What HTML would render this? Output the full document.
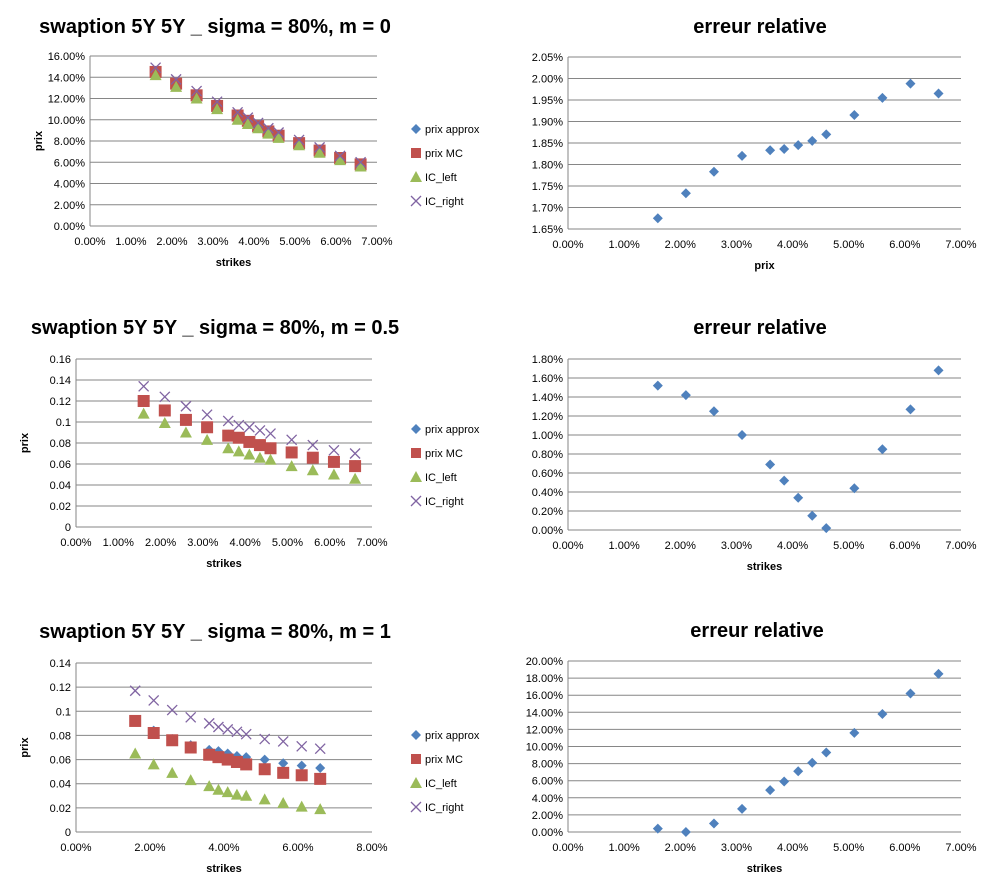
<!DOCTYPE html>
<html><head><meta charset="utf-8">
<style>
body{margin:0;background:#fff;font-family:"Liberation Sans",sans-serif;}
svg{display:block}
text{font-family:"Liberation Sans",sans-serif;fill:#000}
</style></head>
<body>
<svg id="c" width="988" height="888" viewBox="0 0 988 888"></svg>
<script>
const strikes=[0.016,0.021,0.026,0.031,0.036,0.0385,0.041,0.0435,0.046,0.051,0.056,0.061,0.066];
const m0Approx=[0.146,0.135,0.124,0.114,0.104,0.099,0.094,0.089,0.085,0.078,0.071,0.064,0.058];
const m0MC=[0.145,0.134,0.123,0.113,0.104,0.099,0.094,0.089,0.085,0.078,0.071,0.064,0.058];
const m0Left=[0.142,0.131,0.120,0.110,0.100,0.096,0.092,0.087,0.083,0.076,0.069,0.062,0.056];
const m0Right=[0.149,0.138,0.127,0.117,0.107,0.102,0.097,0.092,0.088,0.081,0.074,0.066,0.060];
const m05Approx=[0.121,0.111,0.103,0.095,0.088,0.085,0.082,0.079,0.076,0.071,0.066,0.062,0.059];
const m05MC=[0.120,0.111,0.102,0.095,0.087,0.085,0.081,0.078,0.075,0.071,0.066,0.062,0.058];
const m05Left=[0.108,0.099,0.090,0.083,0.075,0.072,0.069,0.066,0.064,0.058,0.054,0.050,0.046];
const m05Right=[0.134,0.124,0.115,0.107,0.101,0.097,0.095,0.092,0.089,0.083,0.078,0.073,0.070];
const m1Approx=[0.092,0.084,0.077,0.072,0.068,0.067,0.065,0.063,0.062,0.060,0.057,0.055,0.053];
const m1MC=[0.092,0.082,0.076,0.070,0.064,0.062,0.060,0.058,0.056,0.052,0.049,0.047,0.044];
const m1Left=[0.065,0.056,0.049,0.043,0.038,0.035,0.033,0.031,0.030,0.027,0.024,0.021,0.019];
const m1Right=[0.117,0.109,0.101,0.095,0.090,0.087,0.085,0.083,0.081,0.077,0.075,0.071,0.069];
const err0=[0.01675,0.01733,0.01783,0.01820,0.01833,0.01836,0.01845,0.01855,0.01870,0.01915,0.01955,0.01988,0.01965];
const err05=[0.0152,0.0142,0.0125,0.0100,0.0069,0.0052,0.0034,0.0015,0.0002,0.0044,0.0085,0.0127,0.0168];
const err1=[0.004,0.000,0.010,0.027,0.049,0.059,0.071,0.081,0.093,0.116,0.138,0.162,0.185];

const svg=document.getElementById('c');
const NS='http://www.w3.org/2000/svg';
function mk(tag,attrs,parent){const e=document.createElementNS(NS,tag);for(const k in attrs)e.setAttribute(k,attrs[k]);(parent||svg).appendChild(e);return e;}
const COL={approx:'#4f81bd',mc:'#c0504d',left:'#9bbb59',right:'#8064a2'};
function marker(g,type,x,y){
  let e;
  if(type==='approx'){e=mk('polygon',{points:`${x},${y-5} ${x+5},${y} ${x},${y+5} ${x-5},${y}`,fill:COL.approx},g);}
  else if(type==='mc'){e=mk('rect',{x:x-6,y:y-6,width:12,height:12,fill:COL.mc},g);}
  else if(type==='left'){e=mk('polygon',{points:`${x},${y-6} ${x+6},${y+5} ${x-6},${y+5}`,fill:COL.left},g);}
  else {e=mk('path',{d:`M${x-5},${y-5}L${x+5},${y+5}M${x+5},${y-5}L${x-5},${y+5}`,stroke:COL.right,'stroke-width':1.3,fill:'none'},g);}
  return e;
}
function chart(o){
  const g=mk('g',{});
  
  
  const sx=v=>o.x0+(v-o.xmin)/(o.xmax-o.xmin)*(o.x1-o.x0);
  const sy=v=>o.y0+(v-o.ymin)/(o.ymax-o.ymin)*(o.y1-o.y0);
  const t=mk('text',{x:o.tx,y:o.ty,'font-size':20,'font-weight':'bold','text-anchor':'middle'},g);t.textContent=o.title;
  
  for(let i=0;i<=o.ny;i++){
    const v=o.ymin+i*(o.ymax-o.ymin)/o.ny,y=sy(v);
    mk('line',{x1:o.x0,x2:o.x1,y1:y,y2:y,stroke:'#868686','stroke-width':1},g);
    const l=mk('text',{x:o.x0-5,y:y+4,'font-size':11,'text-anchor':'end'},g);l.textContent=o.yfmt(v);
  }
  mk('line',{x1:o.x0,x2:o.x0,y1:o.y0,y2:o.y1,stroke:'#868686'},g);
  for(let i=0;i<=o.nx;i++){
    const v=o.xmin+i*(o.xmax-o.xmin)/o.nx;
    const l=mk('text',{x:sx(v),y:o.y0+19,'font-size':11,'text-anchor':'middle'},g);l.textContent=(v*100).toFixed(2)+'%';
  }
  const xl=mk('text',{x:(o.x0+o.x1)/2,y:o.y0+40,'font-size':11,'font-weight':'bold','text-anchor':'middle'},g);xl.textContent=o.xlabel;
  if(o.ylabel){const yl=mk('text',{x:0,y:0,'font-size':11,'font-weight':'bold','text-anchor':'middle',transform:`translate(${o.x0-48},${(o.y0+o.y1)/2}) rotate(-90)`},g);yl.textContent=o.ylabel;}
  o.series.forEach(s=>{
    strikes.forEach((k,i)=>{const m=marker(g,s.type,sx(k),sy(s.data[i]));
      });
  });
  if(o.legend){
    const names={approx:'prix approx',mc:'prix MC',left:'IC_left',right:'IC_right'};
    o.series.forEach((s,i)=>{
      const y=o.ly+i*24;
      const lg=mk('g',{},g);
      
      const m=marker(lg,s.type,416,y);
      if(s.type==='mc'){m.setAttribute('x',411);m.setAttribute('y',y-5);m.setAttribute('width',10);m.setAttribute('height',10);}
      const tx=mk('text',{x:425,y:y+4,'font-size':11},lg);tx.textContent=names[s.type];
    });
  }
}
const pct=v=>(v*100).toFixed(2)+'%';
const dec=v=>(+v.toFixed(2)).toString();
function ser(a,b,c,d){return [{type:'approx',data:a},{type:'mc',data:b},{type:'left',data:c},{type:'right',data:d}];}
chart({name:'chart-m0-prices',title:'swaption 5Y 5Y _ sigma = 80%, m = 0',tx:215,ty:33,x0:90,x1:377,xmin:0,xmax:0.07,nx:7,y0:226,y1:56,ymin:0,ymax:0.16,ny:8,yfmt:pct,xlabel:'strikes',ylabel:'prix',series:ser(m0Approx,m0MC,m0Left,m0Right),legend:true,ly:129});
chart({name:'chart-m05-prices',title:'swaption 5Y 5Y _ sigma = 80%, m = 0.5',tx:215,ty:334,x0:76,x1:372,xmin:0,xmax:0.07,nx:7,y0:527,y1:359,ymin:0,ymax:0.16,ny:8,yfmt:dec,xlabel:'strikes',ylabel:'prix',series:ser(m05Approx,m05MC,m05Left,m05Right),legend:true,ly:429});
chart({name:'chart-m1-prices',title:'swaption 5Y 5Y _ sigma = 80%, m = 1',tx:215,ty:638,x0:76,x1:372,xmin:0,xmax:0.08,nx:4,y0:832,y1:663,ymin:0,ymax:0.14,ny:7,yfmt:dec,xlabel:'strikes',ylabel:'prix',series:ser(m1Approx,m1MC,m1Left,m1Right),legend:true,ly:735});
chart({name:'chart-m0-error',title:'erreur relative',tx:760,ty:33,x0:568,x1:961,xmin:0,xmax:0.07,nx:7,y0:229,y1:57,ymin:0.0165,ymax:0.0205,ny:8,yfmt:pct,xlabel:'prix',series:[{type:'approx',data:err0}]});
chart({name:'chart-m05-error',title:'erreur relative',tx:760,ty:334,x0:568,x1:961,xmin:0,xmax:0.07,nx:7,y0:530,y1:359,ymin:0,ymax:0.018,ny:9,yfmt:pct,xlabel:'strikes',series:[{type:'approx',data:err05}]});
chart({name:'chart-m1-error',title:'erreur relative',tx:757,ty:637,x0:568,x1:961,xmin:0,xmax:0.07,nx:7,y0:832,y1:661,ymin:0,ymax:0.20,ny:10,yfmt:pct,xlabel:'strikes',series:[{type:'approx',data:err1}]});
</script>
</body></html>
